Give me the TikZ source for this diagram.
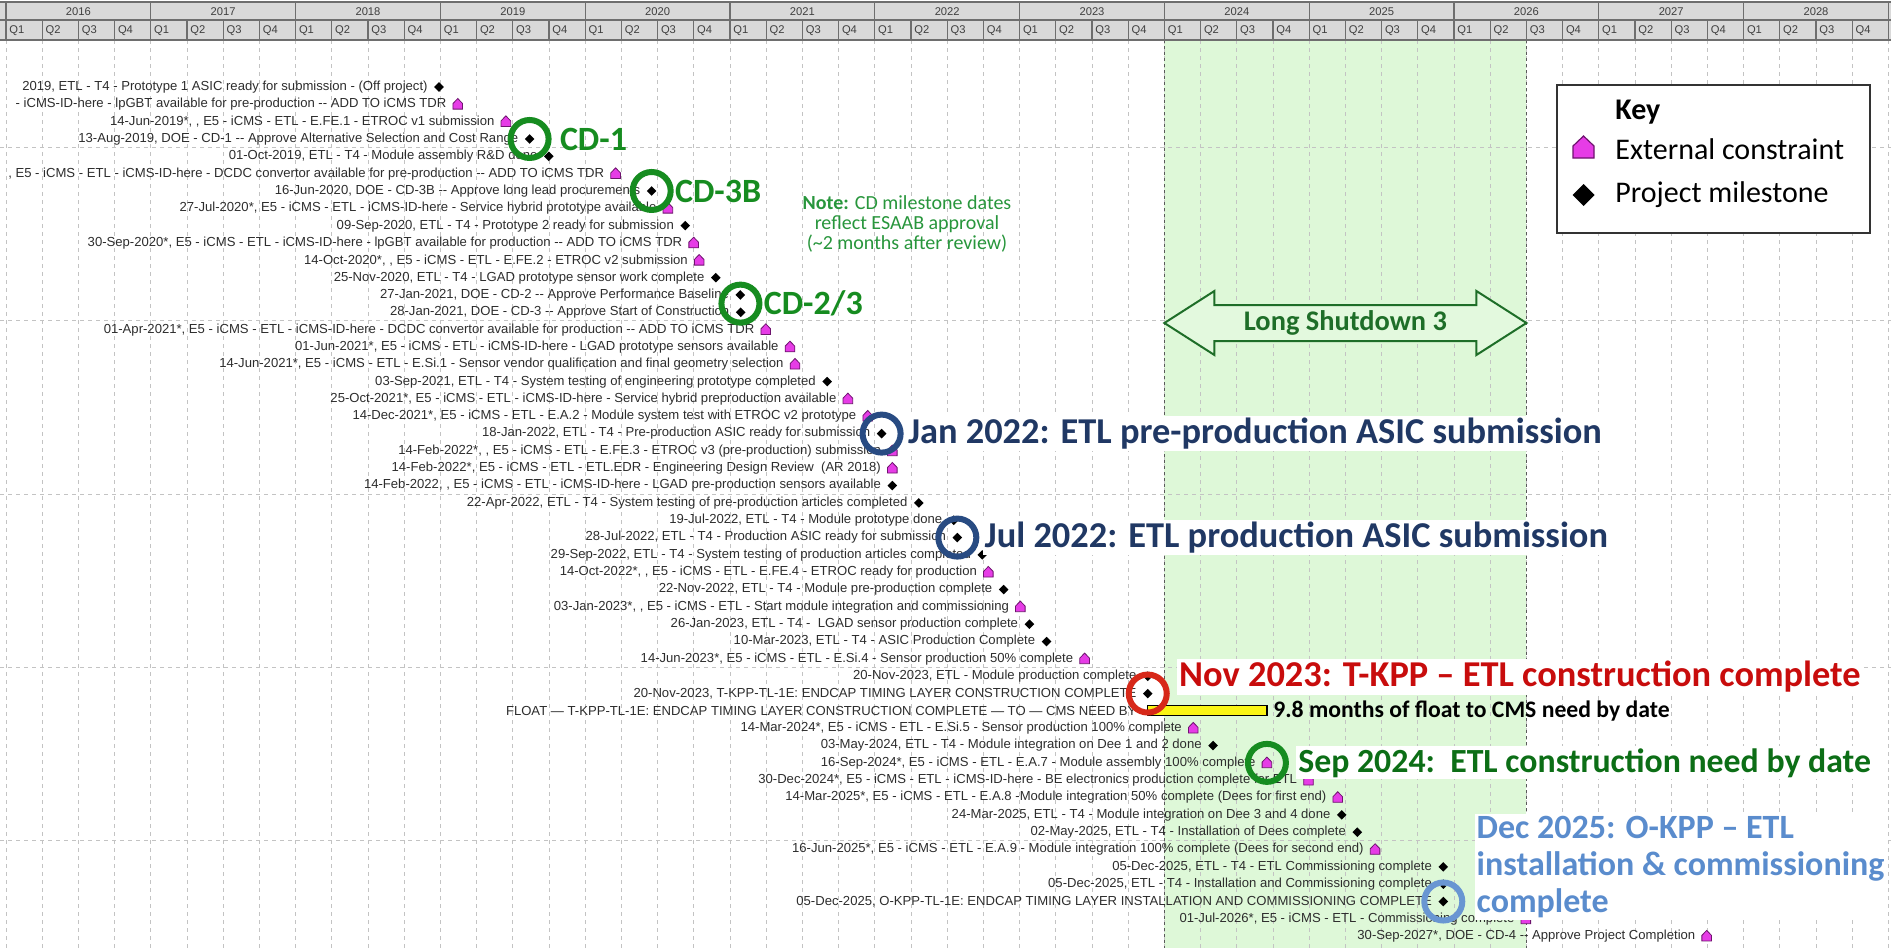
\documentclass[tikz,border=0pt]{standalone}
\usepackage{fontspec}
\setmainfont{Liberation Sans}[Ligatures=TeXOff]
\newfontfamily\calib{Carlito}
\usetikzlibrary{calc}

\definecolor{regiongreen}{RGB}{222,248,216}
\definecolor{gridgray}{RGB}{195,195,195}
\definecolor{edgegray}{RGB}{90,90,90}
\definecolor{hdrgray}{RGB}{217,217,217}
\definecolor{hdrline}{RGB}{110,110,110}
\definecolor{cdgreen}{RGB}{22,140,32}
\definecolor{needgreen}{RGB}{12,110,22}
\definecolor{notegreen}{RGB}{40,150,60}
\definecolor{navy}{RGB}{32,56,100}
\definecolor{ringnavy}{RGB}{40,75,130}
\definecolor{kppred}{RGB}{200,12,12}
\definecolor{ringred}{RGB}{215,40,25}
\definecolor{skyblue}{RGB}{90,140,205}
\definecolor{ringsky}{RGB}{105,150,210}
\definecolor{magentafill}{RGB}{230,60,230}
\definecolor{magentaedge}{RGB}{110,20,110}
\definecolor{lsgreen}{RGB}{30,110,40}
\definecolor{txtgray}{RGB}{45,45,45}
\definecolor{floatyellow}{RGB}{250,245,20}

\tikzset{
  gridline/.style={gridgray, line width=0.5pt, dash pattern=on 2pt off 2pt},
  edgeline/.style={edgegray, line width=0.7pt, dash pattern=on 1.5pt off 1.5pt},
  hdrrule/.style={hdrline, line width=0.6pt},
  hdrtxt/.style={font=\fontsize{5.6}{6}\selectfont, text=black!75, inner sep=0pt},
  rowtxt/.style={font=\fontsize{6.55}{7}\selectfont, text=txtgray, inner sep=0pt, anchor=east},
  ring/.style={line width=3pt},
  biglabel/.style={font=\calib\bfseries\fontsize{18.2}{19}\selectfont, fill=white, inner sep=1pt, anchor=west},
  cdlabel/.style={font=\calib\bfseries\fontsize{17}{18}\selectfont, text=cdgreen, inner sep=1pt, anchor=west},
  keytxt/.style={font=\calib\fontsize{15}{16}\selectfont, text=black, inner sep=0pt, anchor=west},
  msdiamond/.pic={\fill[black] (0,-4.8) -- (4.8,0) -- (0,4.8) -- (-4.8,0) -- cycle;},
  mshouse/.pic={\filldraw[fill=magentafill, draw=magentaedge, line width=0.4pt]
      (-4.8,4.8) -- (4.8,4.8) -- (4.8,-0.8) -- (0,-5.8) -- (-4.8,-0.8) -- cycle;},
}

% one milestone row: row number, years after 1 Jan 2016, marker pic, label
\newcommand\mstone[4]{%
  \coordinate (m#1) at ({datex(#2)},{rowy(#1)});
  \node[rowtxt] (t#1) at ({datex(#2)-11},{rowy(#1)}) {#4};
  \pic at (m#1) {#3};
}

\begin{document}
\begin{tikzpicture}[x=0.5pt,y=-0.5pt,
  declare function={datex(\d)=6+144.8*\d; rowy(\r)=87+17.33*(\r-1);}]
\useasboundingbox (0,0) rectangle (1891,948);
\clip (0,0) rectangle (1891,948);
\fill[white] (0,0) rectangle (1891,948);

% Long Shutdown 3 period
\fill[regiongreen] ({datex(8)},40) rectangle ({datex(10.5)},948);

% quarter grid and row bands
\foreach \q in {0,...,52}
  \draw[gridline] ({datex(\q/4)},40) -- ({datex(\q/4)},948);
\foreach \r in {4.5,14.5,24.5,34.5,44.5}
  \draw[gridline] (0,{rowy(\r)}) -- (1891,{rowy(\r)});
\draw[edgeline] ({datex(8)},40) -- ({datex(8)},948);
\draw[edgeline] ({datex(10.5)},40) -- ({datex(10.5)},948);

% calendar header
\fill[hdrgray] (0,2) rectangle (1891,40);
\draw[hdrrule] (0,2) -- (1891,2) (0,20) -- (1891,20) (0,40) -- (1891,40);
\foreach \y in {0,...,13}
  \draw[hdrrule] ({datex(\y)},2) -- ({datex(\y)},40);
\foreach \q in {0,...,52}
  \draw[hdrrule] ({datex(\q/4)},20) -- ({datex(\q/4)},40);
\foreach \yr [count=\i from 0] in {2016,...,2028} {
  \node[hdrtxt] (yr\i) at ({datex(\i+0.5)},11.5) {\yr};
  \foreach \qq in {1,...,4}
    \node[hdrtxt, anchor=west] (q\i-\qq) at ({datex(\i+(\qq-1)/4)+3},30.5) {Q\qq};
}

% Long Shutdown 3 arrow
\filldraw[fill=regiongreen!85!white, draw=lsgreen, line width=1pt]
  ({datex(8)},323) -- ({datex(8)+50},291) -- ({datex(8)+50},305) --
  ({datex(10.5)-50},305) -- ({datex(10.5)-50},291) -- ({datex(10.5)},323) --
  ({datex(10.5)-50},355) -- ({datex(10.5)-50},341) -- ({datex(8)+50},341) --
  ({datex(8)+50},355) -- cycle;
\node[font=\calib\bfseries\fontsize{14.2}{15}\selectfont, text=lsgreen] (ls3)
  at ({(datex(8)+datex(10.5))/2},323) {Long Shutdown 3};

% milestones
\mstone{1}{2.99}{msdiamond}{2019, ETL - T4 - Prototype 1 ASIC ready for submission - (Off project)}
\mstone{2}{3.12}{mshouse}{- iCMS-ID-here - lpGBT available for pre-production -- ADD TO iCMS TDR}
\mstone{3}{3.452}{mshouse}{14-Jun-2019*, , E5 - iCMS - ETL - E.FE.1 - ETROC v1 submission}
\mstone{4}{3.616}{msdiamond}{13-Aug-2019, DOE - CD-1 -- Approve Alternative Selection and Cost Range}
\mstone{5}{3.749}{msdiamond}{01-Oct-2019, ETL - T4 - Module assembly R\&D done}
\mstone{6}{4.21}{mshouse}{, E5 - iCMS - ETL - iCMS-ID-here - DCDC convertor available for pre-production -- ADD TO iCMS TDR}
\mstone{7}{4.459}{msdiamond}{16-Jun-2020, DOE - CD-3B -- Approve long lead procurements}
\mstone{8}{4.571}{mshouse}{27-Jul-2020*, E5 - iCMS - ETL - iCMS-ID-here - Service hybrid prototype available}
\mstone{9}{4.691}{msdiamond}{09-Sep-2020, ETL - T4 - Prototype 2 ready for submission}
\mstone{10}{4.749}{mshouse}{30-Sep-2020*, E5 - iCMS - ETL - iCMS-ID-here - lpGBT available for production -- ADD TO iCMS TDR}
\mstone{11}{4.787}{mshouse}{14-Oct-2020*, , E5 - iCMS - ETL - E.FE.2 - ETROC v2 submission}
\mstone{12}{4.902}{msdiamond}{25-Nov-2020, ETL - T4 - LGAD prototype sensor work complete}
\mstone{13}{5.071}{msdiamond}{27-Jan-2021, DOE - CD-2 -- Approve Performance Baseline}
\mstone{14}{5.074}{msdiamond}{28-Jan-2021, DOE - CD-3 -- Approve Start of Construction}
\mstone{15}{5.247}{mshouse}{01-Apr-2021*, E5 - iCMS - ETL - iCMS-ID-here - DCDC convertor available for production -- ADD TO iCMS TDR}
\mstone{16}{5.414}{mshouse}{01-Jun-2021*, E5 - iCMS - ETL - iCMS-ID-here - LGAD prototype sensors available}
\mstone{17}{5.449}{mshouse}{14-Jun-2021*, E5 - iCMS - ETL - E.Si.1 - Sensor vendor qualification and final geometry selection}
\mstone{18}{5.671}{msdiamond}{03-Sep-2021, ETL - T4 - System testing of engineering prototype completed}
\mstone{19}{5.814}{mshouse}{25-Oct-2021*, E5 - iCMS - ETL - iCMS-ID-here - Service hybrid preproduction available}
\mstone{20}{5.951}{mshouse}{14-Dec-2021*, E5 - iCMS - ETL - E.A.2 - Module system test with ETROC v2 prototype}
\mstone{21}{6.047}{msdiamond}{18-Jan-2022, ETL - T4 - Pre-production ASIC ready for submission}
\mstone{22}{6.121}{mshouse}{14-Feb-2022*, , E5 - iCMS - ETL - E.FE.3 - ETROC v3 (pre-production) submission}
\mstone{23}{6.121}{mshouse}{14-Feb-2022*, E5 - iCMS - ETL - ETL.EDR - Engineering Design Review~ (AR 2018)}
\mstone{24}{6.121}{msdiamond}{14-Feb-2022, , E5 - iCMS - ETL - iCMS-ID-here - LGAD pre-production sensors available}
\mstone{25}{6.304}{msdiamond}{22-Apr-2022, ETL - T4 - System testing of pre-production articles completed}
\mstone{26}{6.545}{msdiamond}{19-Jul-2022, ETL - T4 - Module prototype done}
\mstone{27}{6.570}{msdiamond}{28-Jul-2022, ETL - T4 - Production ASIC ready for submission}
\mstone{28}{6.742}{msdiamond}{29-Sep-2022, ETL - T4 - System testing of production articles completed}
\mstone{29}{6.784}{mshouse}{14-Oct-2022*, , E5 - iCMS - ETL - E.FE.4 - ETROC ready for production}
\mstone{30}{6.890}{msdiamond}{22-Nov-2022, ETL - T4 - Module pre-production complete}
\mstone{31}{7.005}{mshouse}{03-Jan-2023*, , E5 - iCMS - ETL - Start module integration and commissioning}
\mstone{32}{7.068}{msdiamond}{26-Jan-2023, ETL - T4 -~ LGAD sensor production complete}
\mstone{33}{7.186}{msdiamond}{10-Mar-2023, ETL - T4 - ASIC Production Complete}
\mstone{34}{7.449}{mshouse}{14-Jun-2023*, E5 - iCMS - ETL - E.Si.4 - Sensor production 50\% complete}
\mstone{35}{7.885}{msdiamond}{20-Nov-2023, ETL - Module production complete}
\mstone{36}{7.885}{msdiamond}{20-Nov-2023, T-KPP-TL-1E: ENDCAP TIMING LAYER CONSTRUCTION COMPLETE}
% float between construction complete and the CMS need-by date
\coordinate (fs) at ({datex(7.885)},{rowy(37)});
\coordinate (fe) at ({datex(8.708)},{rowy(37)});
\node[rowtxt] (t37) at ({datex(7.885)-11},{rowy(37)}) {FLOAT — T-KPP-TL-1E: ENDCAP TIMING LAYER CONSTRUCTION COMPLETE — TO — CMS NEED BY};
\filldraw[fill=floatyellow, draw=black, line width=0.6pt] ($(fs)+(0,-5)$) rectangle ($(fe)+(0,5)$);
\mstone{38}{8.199}{mshouse}{14-Mar-2024*, E5 - iCMS - ETL - E.Si.5 - Sensor production 100\% complete}
\mstone{39}{8.336}{msdiamond}{03-May-2024, ETL - T4 - Module integration on Dee 1 and 2 done}
\mstone{40}{8.708}{mshouse}{16-Sep-2024*, E5 - iCMS - ETL - E.A.7 - Module assembly 100\% complete}
\mstone{41}{8.995}{mshouse}{30-Dec-2024*, E5 - iCMS - ETL - iCMS-ID-here - BE electronics production complete for ETL}
\mstone{42}{9.197}{mshouse}{14-Mar-2025*, E5 - iCMS - ETL - E.A.8 -Module integration 50\% complete (Dees for first end)}
\mstone{43}{9.225}{msdiamond}{24-Mar-2025, ETL - T4 - Module integration on Dee 3 and 4 done}
\mstone{44}{9.332}{msdiamond}{02-May-2025, ETL - T4 - Installation of Dees complete}
\mstone{45}{9.455}{mshouse}{16-Jun-2025*, E5 - iCMS - ETL - E.A.9 - Module integration 100\% complete (Dees for second end)}
\mstone{46}{9.926}{msdiamond}{05-Dec-2025, ETL - T4 - ETL Commissioning complete}
\mstone{47}{9.926}{msdiamond}{05-Dec-2025, ETL - T4 - Installation and Commissioning complete}
\mstone{48}{9.926}{msdiamond}{05-Dec-2025, O-KPP-TL-1E: ENDCAP TIMING LAYER INSTALLATION AND COMMISSIONING COMPLETE}
\mstone{49}{10.496}{mshouse}{01-Jul-2026*, E5 - iCMS - ETL - Commissioning complete}
\mstone{50}{11.745}{mshouse}{30-Sep-2027*, DOE - CD-4 -- Approve Project Completion}

% highlighted milestones
\coordinate (cd23) at ({datex(5.072)},{(rowy(13)+rowy(14))/2});
\draw[ring, cdgreen] (m4) circle[radius=19];
\draw[ring, cdgreen] (m7) circle[radius=19];
\draw[ring, cdgreen] (cd23) circle[radius=19];
\draw[ring, ringnavy] (m21) circle[radius=19];
\draw[ring, ringnavy] (m27) circle[radius=19];
\draw[ring, ringred] (m36) circle[radius=19];
\draw[ring, cdgreen] (m40) circle[radius=19];
\draw[ring, ringsky] (m48) circle[radius=19];

\node[cdlabel] (lcd1) at ($(m4)+(28,0)$) {CD-1};
\node[cdlabel] (lcd3b) at ($(m7)+(21,0)$) {CD-3B};
\node[cdlabel] (lcd23) at ($(cd23)+(21,0)$) {CD-2/3};
\node[biglabel, text=navy] (ljan) at ($(m21)+(24,0)$) {Jan 2022: ETL pre-production ASIC submission};
\node[biglabel, text=navy] (ljul) at ($(m27)+(25,0)$) {Jul 2022: ETL production ASIC submission};
\node[biglabel, text=kppred] (lnov) at ({datex(7.885)+29},677) {Nov 2023: T-KPP – ETL construction complete};
\node[font=\calib\bfseries\fontsize{11.85}{12}\selectfont, inner sep=1pt, anchor=west] (lfloat)
  at ($(fe)+(4,0)$) {9.8 months of float to CMS need by date};
\node[biglabel, text=needgreen, font=\calib\bfseries\fontsize{16.9}{18}\selectfont] (lsep)
  at ($(m40)+(29,0)$) {Sep 2024:\ \ ETL construction need by date};
\node[biglabel, text=skyblue, align=left, font=\calib\bfseries\fontsize{17}{18.7}\selectfont] (ldec)
  at ({datex(9.926)+31},867) {Dec 2025: O-KPP – ETL\\installation \& commissioning\\complete};

% note on CD dates
\node[font=\calib\fontsize{10}{10}\selectfont, text=notegreen, align=center] (note)
  at (907,224) {\textbf{Note:} CD milestone dates\\reflect ESAAB approval\\(\textasciitilde2 months after review)};

% key
\node[draw=black!80, line width=1pt, fill=white, minimum width=156.5pt, minimum height=74pt,
  anchor=north west, inner sep=0pt] (keybox) at (1556,84) {};
\node[keytxt, font=\calib\bfseries\fontsize{15}{16}\selectfont] (keyhead) at (1615,112) {Key};
\node[keytxt] (keyext) at (1615,149) {External constraint};
\node[keytxt] (keyms) at (1615,195) {Project milestone};
\filldraw[fill=magentafill, draw=magentaedge, line width=0.6pt]
  (1573,158) -- (1594,158) -- (1594,146) -- (1583.5,136) -- (1573,146) -- cycle;
\fill[black] (1583.5,184) -- (1594.5,195) -- (1583.5,206) -- (1572.5,195) -- cycle;
\end{tikzpicture}
\end{document}
